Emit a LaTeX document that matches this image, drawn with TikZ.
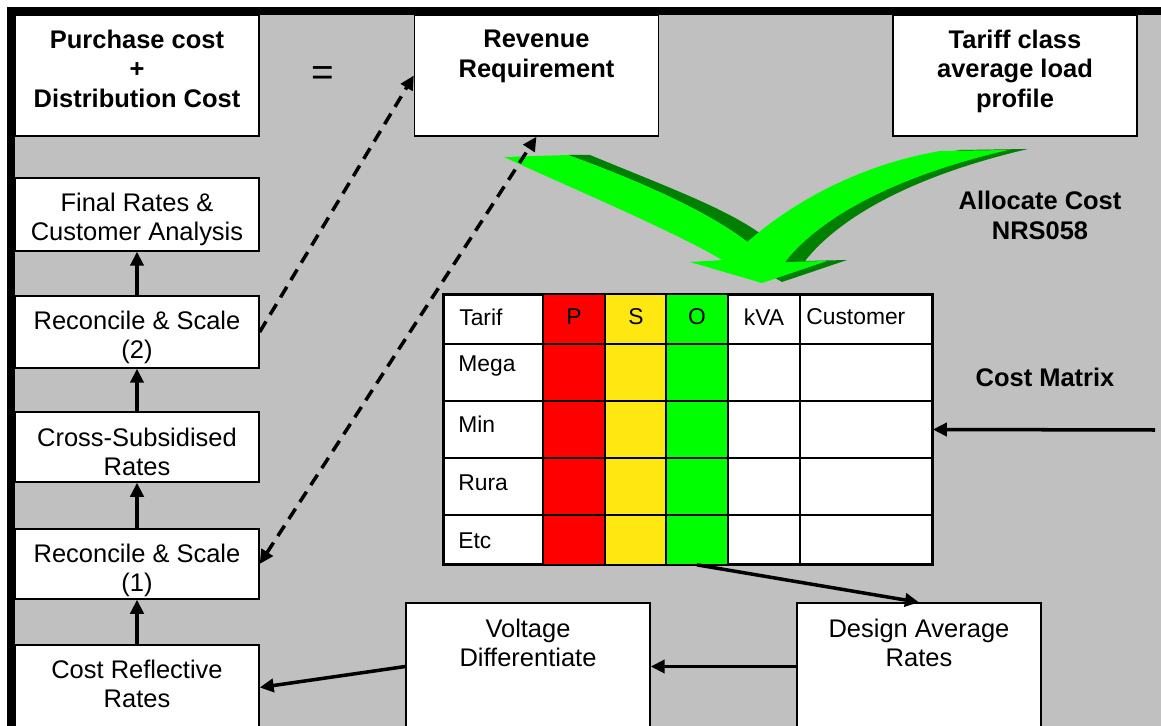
\documentclass[tikz,border=0pt]{standalone}
\usepackage{fontspec}
\setmainfont{Liberation Sans}
\usetikzlibrary{positioning,arrows.meta}

\definecolor{panelgrey}{HTML}{C0C0C0}
\definecolor{brightgreen}{HTML}{00FF00}
\definecolor{darkgreen}{HTML}{008000}
\definecolor{cellred}{HTML}{FF0000}
\definecolor{cellyellow}{HTML}{FFE811}
\definecolor{cellgreen}{HTML}{00FF00}

\begin{document}
\begin{tikzpicture}[x=0.02cm, y=-0.02cm,
  big/.style={font=\fontsize{14.5}{17}\selectfont},
  bigbold/.style={font=\fontsize{14.5}{17}\selectfont\bfseries},
  box/.style={draw, fill=white, line width=0.8pt, minimum width=4.88cm},
  boxtext/.style={inner sep=0pt, align=center},
  cell/.style={inner sep=0pt, font=\fontsize{13}{15}\selectfont},
  flow/.style={line width=2pt, -{Triangle[length=8pt, width=7.5pt]}},
  link/.style={flow, dash pattern=on 7pt off 4.5pt}]

\useasboundingbox (0,0) rectangle (1161,726);

% Panel
\fill[white] (0,0) rectangle (1161,726);
\draw[line width=4.5pt, fill=panelgrey] (11,11) rectangle (1200,760);

% Top row
\node[box, minimum height=2.42cm] (pur) at (137,75.5) {};
\node[boxtext, bigbold, below=0.3cm of pur.north] (purtxt)
  {Purchase cost\\+\\Distribution Cost};
\node[inner sep=0pt, font=\fontsize{22}{22}\selectfont] (eq) at (323,76) {=};
\node[box, minimum height=2.42cm] (rev) at (536.5,75.5) {};
\node[boxtext, bigbold, below=0.3cm of rev.north] (revtxt)
  {Revenue\\Requirement};
\node[box, minimum height=2.42cm] (tariff) at (1015,75.5) {};
\node[boxtext, bigbold, below=0.3cm of tariff.north] (tarifftxt)
  {Tariff class\\average load\\profile};

% Left column
\node[box, minimum height=1.46cm] (final) at (137,214.5) {};
\node[boxtext, big, below=0.3cm of final.north] (finaltxt) {Final Rates \&\\Customer Analysis};
\node[box, minimum height=1.44cm] (rec2) at (137,332) {};
\node[boxtext, big, below=0.3cm of rec2.north] (rec2txt) {Reconcile \& Scale\\(2)};
\node[box, minimum height=1.4cm] (cross) at (137,447) {};
\node[boxtext, big, below=0.32cm of cross.north] (crosstxt) {Cross-Subsidised\\Rates};
\node[box, minimum height=1.4cm] (rec1) at (137,564) {};
\node[boxtext, big, below=0.3cm of rec1.north] (rec1txt) {Reconcile \& Scale\\(1)};
\node[box, minimum height=1.7cm] (costref) at (137,687.5) {};
\node[boxtext, big, below=0.3cm of costref.north] (costreftxt) {Cost Reflective\\Rates};

% Bottom row
\node[box, minimum height=2.54cm] (volt) at (528,666.5) {};
\node[boxtext, big, below=0.32cm of volt.north] (volttxt) {Voltage\\Differentiate};
\node[box, minimum height=2.54cm] (design) at (919,666.5) {};
\node[boxtext, big, below=0.32cm of design.north] (designtxt) {Design Average\\Rates};

% Labels
\node[boxtext, bigbold] (alloc) at (1040,215) {Allocate Cost\\NRS058};
\node[boxtext, bigbold] (cmlabel) at (1045,377) {Cost Matrix};

% Green arrows
\fill[darkgreen, shift={(20,-1)}] (940,151) -- (1008,150)
  .. controls (900,175) and (822,215) .. (785,262) -- (827,261) -- (762,283)
  -- (705,250) -- (745,244) .. controls (800,195) and (870,163) .. (940,151) -- cycle;
\fill[darkgreen] (568,155) -- (590,155) .. controls (670,188) and (730,210) .. (765,237)
  -- (751,245) .. controls (715,215) and (645,183) .. (568,155) -- cycle;
\fill[brightgreen] (504,157) -- (568,155) .. controls (645,183) and (715,215) .. (751,245)
  -- (790,222) -- (762,283) -- (690,262) -- (723,260)
  .. controls (660,225) and (580,192) .. (504,157) -- cycle;
\fill[brightgreen] (940,151) -- (1008,150)
  .. controls (900,175) and (822,215) .. (785,262) -- (827,261) -- (762,283)
  -- (705,250) -- (745,244) .. controls (800,195) and (870,163) .. (940,151) -- cycle;

% Cost matrix
\node[draw, fill=white, line width=1pt, minimum width=9.76cm, minimum height=5.38cm,
  inner sep=0pt] (costm) at (688,429.5) {};
\foreach \xa/\xb/\col in {543/605/cellred, 605/666/cellyellow, 666/728/cellgreen}
  \fill[\col] (\xa,295) rectangle (\xb,564);
\foreach \xx in {543,605,666,728,800}
  \draw[line width=1pt] (\xx,295) -- (\xx,564);
\foreach \yy in {344,401,458,515}
  \draw[line width=1pt] (444,\yy) -- (932,\yy);
\draw[line width=1pt] (costm.south west) rectangle (costm.north east);

\node[cell, anchor=west] (h-tarif) at (459,317) {Tarif};
\foreach \name/\xx in {P/574, S/636, O/697, kVA/764}
  \node[cell] (h-\name) at (\xx,317) {\name};
\node[cell, anchor=west] (h-cust) at (806,317) {Customer};
\foreach \name/\yy in {Mega/366, Min/424, Rura/483, Etc/541}
  \node[cell, anchor=west] (r-\name) at (458,\yy) {\name};

% Flow up the left column
\draw[flow] (costref) -- (rec1);
\draw[flow] (rec1) -- (cross);
\draw[flow] (cross) -- (rec2);
\draw[flow] (rec2) -- (final);

% Links to revenue requirement
\draw[link] (rec2.east) -- (rev.west);
\draw[link, {Triangle[length=8pt, width=7.5pt]}-{Triangle[length=8pt, width=7.5pt]}]
  (rec1.east) -- (rev.south);

% Matrix and rates
\coordinate (feed) at (1155,430);
\draw[flow] (feed) -- (costm.east);
\draw[flow] ([xshift=0.18cm]costm.south) -- (design.north);
\draw[flow] (design.west) -- (volt.east);
\draw[flow] (volt.west) -- (costref.east);

\end{tikzpicture}
\end{document}
